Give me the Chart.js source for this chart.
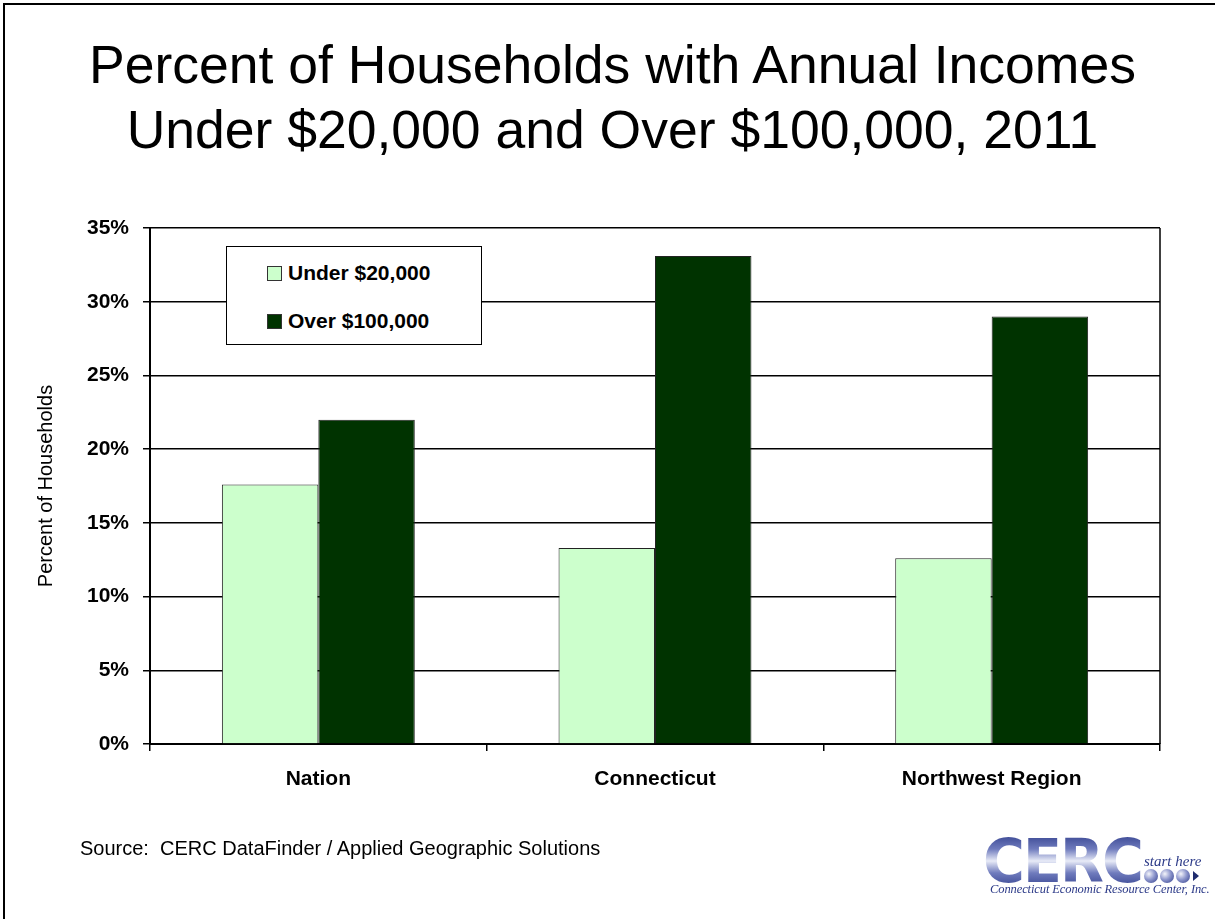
<!DOCTYPE html>
<html><head><meta charset="utf-8">
<script src="https://cdn.jsdelivr.net/npm/chart.js@4"></script>
<style>
html,body{margin:0;padding:0;background:#fff;}
#wrap{position:relative;width:1215px;height:919px;overflow:hidden;font-family:"Liberation Sans",Arial,sans-serif;color:#000;}
#frameL{position:absolute;left:3px;top:3px;width:2px;height:916px;background:#000;}
#frameT{position:absolute;left:3px;top:3px;width:1212px;height:2px;background:#000;}
canvas{position:absolute;left:0;top:0;}
.t{position:absolute;left:5px;width:1215px;text-align:center;font-size:53.5px;line-height:54px;white-space:nowrap;}
#legend{position:absolute;left:226px;top:246px;width:256px;height:99px;border:1.5px solid #000;background:#fff;box-sizing:border-box;}
.li{position:absolute;left:40px;height:24px;display:flex;align-items:center;font-weight:bold;font-size:21px;white-space:nowrap;}
.sw{width:13px;height:13px;border:1px solid #333;margin-right:6px;}
#source{position:absolute;left:80px;top:838px;font-size:20px;line-height:20px;white-space:pre;}
#logo{position:absolute;left:983px;top:830px;width:225px;height:72px;}
.cerc{position:absolute;left:0;top:1px;font-family:"DejaVu Sans",sans-serif;font-weight:bold;font-size:60px;line-height:60px;letter-spacing:-2px;transform:scaleX(0.95);transform-origin:left center;
 background:linear-gradient(180deg,#2c3a88 0%,#6f7bbd 30%,#e8ebf7 50%,#6f7bbd 70%,#2c3a88 100%);-webkit-background-clip:text;background-clip:text;color:transparent;}
.sh{position:absolute;left:161px;top:23px;font-family:"Liberation Serif",serif;font-style:italic;font-size:15px;line-height:16px;color:#2c3a88;white-space:nowrap;}
.dots{position:absolute;left:161px;top:39px;height:14px;display:flex;align-items:center;}
.dots span{width:14px;height:14px;border-radius:50%;margin-right:2px;background:radial-gradient(circle at 35% 35%,#f4f5fb 0%,#8d96cc 45%,#2c3a88 100%);}
.dots i{width:0;height:0;border-top:5px solid transparent;border-bottom:5px solid transparent;border-left:6px solid #1f2c6e;margin-left:1px;}
.cn{position:absolute;left:7px;top:52px;font-family:"Liberation Serif",serif;font-style:italic;font-size:12.5px;line-height:14px;color:#2c3a88;white-space:nowrap;letter-spacing:-0.1px;}
</style></head>
<body>
<div id="wrap">
<div id="frameL"></div><div id="frameT"></div>
<canvas id="c" width="1215" height="919"></canvas>
<div class="t" style="top:38px"><span id="t1"></span></div>
<div class="t" style="top:103px"><span id="t2"></span></div>
<div id="legend"></div>
<div id="source"></div>
<div id="logo">
 <div class="cerc">CERC</div>
 <div class="sh">start here</div>
 <div class="dots"><span></span><span></span><span></span><i></i></div>
 <div class="cn">Connecticut Economic Resource Center, Inc.</div>
</div>
</div>
<script>
const titleLines = ['Percent of Households with Annual Incomes', 'Under $20,000 and Over $100,000, 2011'];
const categories = ['Nation', 'Connecticut', 'Northwest Region'];
const seriesLabels = ['Under $20,000', 'Over $100,000'];
const under20k = [17.6, 13.3, 12.6];
const over100k = [22.0, 33.1, 29.0];
const seriesColors = ['#CCFFCC', '#003300'];
const yTicks = [0, 5, 10, 15, 20, 25, 30, 35];
const yTitle = 'Percent of Households';
const sourceText = 'Source:  CERC DataFinder / Applied Geographic Solutions';

document.getElementById('t1').textContent = titleLines[0];
document.getElementById('t2').textContent = titleLines[1];
document.getElementById('source').textContent = sourceText;

const FONT = '"Liberation Sans", Arial, sans-serif';
const seriesData = [under20k, over100k];

const legend = document.getElementById('legend');
seriesLabels.forEach((lab, i) => {
  const row = document.createElement('div');
  row.className = 'li';
  row.style.top = (14 + i * 48) + 'px';
  const sw = document.createElement('div');
  sw.className = 'sw';
  sw.style.background = seriesColors[i];
  const tx = document.createElement('span');
  tx.textContent = lab;
  row.appendChild(sw); row.appendChild(tx);
  legend.appendChild(row);
});

const frameRight = {
  id: 'frameRight',
  afterDatasetsDraw(chart) {
    const { ctx, chartArea: a } = chart;
    ctx.save();
    ctx.strokeStyle = '#000';
    ctx.lineWidth = 1.5;
    ctx.beginPath();
    ctx.moveTo(a.right, a.top);
    ctx.lineTo(a.right, a.bottom);
    ctx.stroke();
    ctx.restore();
  }
};

new Chart(document.getElementById('c'), {
  type: 'bar',
  data: {
    labels: categories,
    datasets: seriesLabels.map((lab, i) => ({
      label: lab,
      data: seriesData[i],
      backgroundColor: seriesColors[i],
      borderColor: '#222',
      borderWidth: 1,
      categoryPercentage: 0.573,
      barPercentage: 1.0
    }))
  },
  options: {
    responsive: false,
    animation: false,
    devicePixelRatio: 1,
    layout: { padding: { top: 228, right: 55, bottom: 115, left: 0 } },
    plugins: { legend: { display: false }, tooltip: { enabled: false }, title: { display: false } },
    scales: {
      x: {
        grid: { drawOnChartArea: false, drawTicks: true, tickLength: 7, color: '#000', lineWidth: 1.5, offset: true },
        border: { display: true, color: '#000', width: 2 },
        ticks: { font: { family: FONT, size: 21, weight: 'bold' }, color: '#000', padding: 16, maxRotation: 0 },
        afterFit(s) { s.height = 60; }
      },
      y: {
        min: 0, max: 35,
        afterBuildTicks(s) { s.ticks = yTicks.map(v => ({ value: v })); },
        ticks: { callback: v => v + '%', font: { family: FONT, size: 21, weight: 'bold' }, color: '#000', padding: 14 },
        grid: { color: '#000', lineWidth: 1.5, tickLength: 7, drawTicks: true },
        border: { display: true, color: '#000', width: 2 },
        title: { display: true, text: yTitle, font: { family: FONT, size: 20 }, color: '#000', padding: { top: 34, bottom: 0 } },
        afterFit(s) { s.width = 150; }
      }
    }
  },
  plugins: [frameRight]
});
</script>
</body></html>
